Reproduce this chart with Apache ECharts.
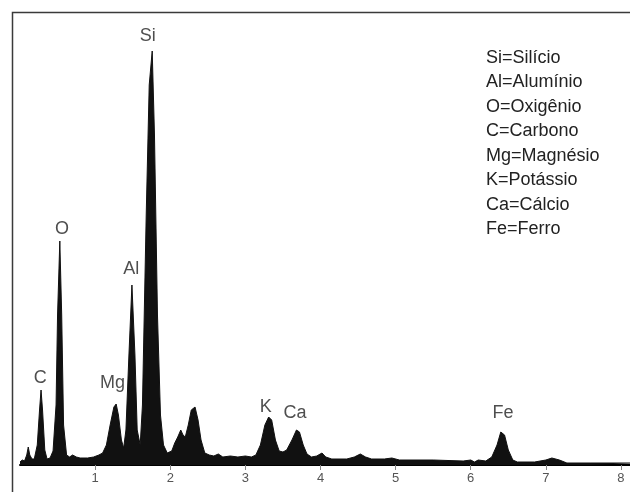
<!DOCTYPE html>
<html>
<head>
<meta charset="utf-8">
<script src="https://cdn.jsdelivr.net/npm/echarts@6/dist/echarts.min.js"></script>
<style>
html, body { margin: 0; padding: 0; background: #fff; }
#main { width: 630px; height: 492px; }
</style>
</head>
<body>
<div id="main"></div>
<script>
// espectro EDS: energia (keV) e intensidade (contagens relativas)
let energia = [0.00,0.03,0.06,0.09,0.11,0.13,0.16,0.19,0.23,0.26,0.28,0.30,0.33,0.36,0.40,0.44,0.48,0.50,0.53,0.555,0.58,0.62,0.66,0.70,0.72,0.75,0.80,0.90,0.98,1.05,1.10,1.15,1.20,1.25,1.28,1.31,1.35,1.38,1.41,1.45,1.49,1.53,1.56,1.60,1.63,1.68,1.72,1.76,1.79,1.83,1.87,1.91,1.96,2.02,2.06,2.10,2.14,2.17,2.20,2.24,2.28,2.33,2.37,2.41,2.46,2.52,2.58,2.64,2.70,2.80,2.90,3.00,3.08,3.14,3.20,3.26,3.31,3.35,3.40,3.45,3.50,3.55,3.62,3.68,3.72,3.77,3.82,3.88,3.95,4.02,4.07,4.15,4.35,4.45,4.53,4.60,4.68,4.85,4.95,5.05,5.50,5.90,6.00,6.05,6.10,6.20,6.28,6.35,6.40,6.45,6.50,6.56,6.62,6.85,7.00,7.08,7.18,7.28,7.60,8.20];
let intensidade = [3,5,4,10,18,10,6,6,20,55,75,55,15,6,7,14,60,150,224,150,40,10,8,10,12,8,7,7,8,10,12,20,40,58,61,50,25,17,35,110,180,110,35,20,60,250,380,414,330,150,50,20,12,14,22,28,35,30,28,40,55,58,45,25,12,10,9,11,8,9,8,9,8,10,20,40,48,45,25,14,13,15,25,35,33,20,11,8,9,12,8,6,6,8,11,8,6,6,7,5,5,4,5,3,5,4,8,20,33,30,15,5,3,3,5,7,5,2,2,2];

// rótulos dos picos
let picoNome = ['C','O','Mg','Al','Si','K','Ca','Fe'];
let picoX = [0.27,0.56,1.23,1.48,1.70,3.27,3.66,6.43];
let picoY = [87,236,82,196,429,58,52,52];

// legenda
let legenda = ['Si=Silício','Al=Alumínio','O=Oxigênio','C=Carbono','Mg=Magnésio','K=Potássio','Ca=Cálcio','Fe=Ferro'];

let marcas = [1,2,3,4,5,6,7,8];

let dados = [];
for (let i = 0; i < energia.length; i++) {
    dados.push([energia[i], intensidade[i]]);
}
let rotulos = [];
for (let i = 0; i < picoNome.length; i++) {
    rotulos.push({value: [picoX[i], picoY[i]], name: picoNome[i]});
}

let fonte = '"Liberation Sans", Arial, sans-serif';

let graficos = [{
    type: 'rect',
    left: 10, top: 10,
    shape: {width: 660, height: 520},
    style: {fill: 'none', stroke: '#3a3a3a', lineWidth: 1.5},
    silent: true
}];
for (let i = 0; i < legenda.length; i++) {
    graficos.push({
        type: 'text',
        left: 486,
        top: 49 + i * 24.5,
        style: {text: legenda[i], fill: '#222', font: '18px ' + fonte}
    });
}

var myChart = echarts.init(document.getElementById('main'));
var option = {
    animation: false,
    backgroundColor: '#fff',
    grid: {left: 20, right: 0, top: 10, bottom: 27},
    xAxis: {
        type: 'value',
        min: 0,
        max: 8.12,
        interval: 1,
        splitLine: {show: false},
        axisLine: {show: true, onZero: false, lineStyle: {color: '#000', width: 2}},
        axisTick: {show: true, customValues: marcas, length: 5, lineStyle: {color: '#888', width: 1}},
        axisLabel: {customValues: marcas, color: '#555', fontSize: 13, fontFamily: fonte, margin: 7}
    },
    yAxis: {
        type: 'value',
        min: 0,
        max: 455,
        show: false
    },
    series: [{
        type: 'line',
        data: dados,
        showSymbol: false,
        symbol: 'none',
        lineStyle: {color: '#111', width: 1},
        areaStyle: {color: '#111', opacity: 1},
        z: 2
    }, {
        type: 'scatter',
        data: rotulos,
        symbolSize: 0,
        label: {
            show: true,
            position: 'inside',
            formatter: '{b}',
            color: '#222',
            fontSize: 18,
            fontFamily: fonte
        },
        silent: true
    }],
    graphic: graficos
};
myChart.setOption(option);
</script>
</body>
</html>
